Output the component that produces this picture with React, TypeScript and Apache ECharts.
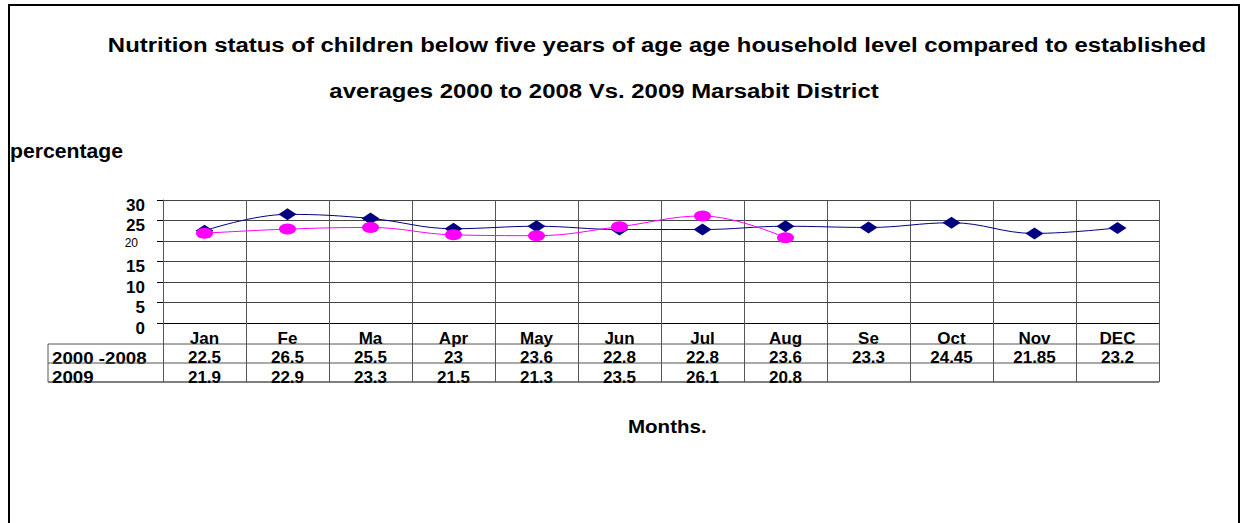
import React, { useEffect, useRef } from 'react';
import * as echarts from 'echarts';

const titleLines = [
  'Nutrition status of children below five years of age age household level compared to established',
  'averages 2000 to 2008 Vs. 2009 Marsabit District',
];
const yAxisName = 'percentage';
const xAxisName = 'Months.';
const months = ['Jan', 'Fe', 'Ma', 'Apr', 'May', 'Jun', 'Jul', 'Aug', 'Se', 'Oct', 'Nov', 'DEC'];
const avgLabel = '2000 -2008';
const avgValues = [22.5, 26.5, 25.5, 23, 23.6, 22.8, 22.8, 23.6, 23.3, 24.45, 21.85, 23.2];
const y2009Label = '2009';
const y2009Values = [21.9, 22.9, 23.3, 21.5, 21.3, 23.5, 26.1, 20.8];
const yMin = 0;
const yMax = 30;
const yStep = 5;

const FONT = '"Liberation Sans", Arial, sans-serif';

function txt(text: string, x: number, y: number, size: number, align: string, sx: number, bold = true) {
  return {
    type: 'text',
    x,
    y,
    scaleX: sx,
    style: {
      text,
      font: `${bold ? 'bold ' : ''}${size}px ${FONT}`,
      fill: '#000',
      textAlign: align,
      align,
      textVerticalAlign: 'middle',
      verticalAlign: 'middle',
    },
  };
}

export default function App() {
  const ref = useRef<HTMLDivElement>(null);
  useEffect(() => {
    document.body.style.margin = '0';
    const chart = echarts.init(ref.current!, null, { renderer: 'svg' });
    const bold17 = { fontSize: 17, fontWeight: 'bold' as const, color: '#000', fontFamily: FONT };
    chart.setOption({
      animation: false,
      backgroundColor: '#fff',
      textStyle: { fontFamily: FONT },
      grid: { left: 163, right: 83, top: 200, height: 123, containLabel: false },
      xAxis: {
        type: 'category',
        data: months,
        boundaryGap: true,
        axisLine: { show: true, lineStyle: { color: '#000', width: 1 } },
        axisTick: { show: true, length: 59, lineStyle: { color: '#555', width: 1 } },
        splitLine: { show: true, lineStyle: { color: '#555', width: 1 } },
        axisLabel: {
          interval: 0,
          margin: 5,
          formatter: (v: string, i: number) =>
            `{m|${v}}\n{v|${avgValues[i] ?? ''}}\n{v|${y2009Values[i] ?? ' '}}`,
          rich: {
            m: { ...bold17, lineHeight: 20 },
            v: { ...bold17, lineHeight: 19.5 },
          },
        },
      },
      yAxis: {
        type: 'value',
        min: yMin,
        max: yMax,
        interval: yStep,
        axisLine: { show: true, lineStyle: { color: '#555', width: 1 } },
        axisTick: { show: true, length: 6, lineStyle: { color: '#000', width: 1 } },
        splitLine: { show: true, lineStyle: { color: '#444', width: 1 } },
        axisLabel: {
          margin: 18,
          formatter: (v: number) => (v === 20 ? `{s|${v}}` : `{b|${v}}`),
          rich: {
            b: { ...bold17, padding: [10, 0, 0, 0] },
            s: { fontSize: 12, color: '#000', fontFamily: FONT, padding: [4, 7, 0, 0] },
          },
        },
      },
      series: [
        {
          name: avgLabel,
          type: 'line',
          data: avgValues,
          smooth: 0.4,
          symbol: 'diamond',
          symbolSize: [18, 12],
          itemStyle: { color: '#000080' },
          lineStyle: { color: '#000080', width: 1 },
          z: 2,
        },
        {
          name: y2009Label,
          type: 'line',
          data: y2009Values,
          smooth: 0.4,
          symbol: 'circle',
          symbolSize: [17, 11],
          itemStyle: { color: '#FF00FF' },
          lineStyle: { color: '#FF00FF', width: 1 },
          z: 3,
        },
      ],
      graphic: [
        {
          type: 'rect',
          shape: { x: 9, y: 5, width: 1230, height: 600 },
          style: { fill: 'none', stroke: '#000', lineWidth: 2 },
          silent: true,
        },
        txt(titleLines[0], 657, 45, 20, 'center', 1.197),
        txt(titleLines[1], 604, 91, 20, 'center', 1.197),
        txt(yAxisName, 10, 151, 20, 'left', 1.06),
        txt(xAxisName, 628, 427, 18, 'left', 1.14),
        txt(avgLabel, 52, 358, 17, 'left', 1.1),
        txt(y2009Label, 52, 377, 17, 'left', 1.1),
        { type: 'line', shape: { x1: 48, y1: 344, x2: 1159, y2: 344 }, style: { stroke: '#555', lineWidth: 1 } },
        { type: 'line', shape: { x1: 48, y1: 363, x2: 1159, y2: 363 }, style: { stroke: '#555', lineWidth: 1 } },
        { type: 'line', shape: { x1: 48, y1: 382, x2: 1159, y2: 382 }, style: { stroke: '#000', lineWidth: 1 } },
        { type: 'line', shape: { x1: 48, y1: 344, x2: 48, y2: 382 }, style: { stroke: '#555', lineWidth: 1 } },
      ],
    });
    return () => chart.dispose();
  }, []);
  return <div ref={ref} style={{ width: 1242, height: 523 }} />;
}
